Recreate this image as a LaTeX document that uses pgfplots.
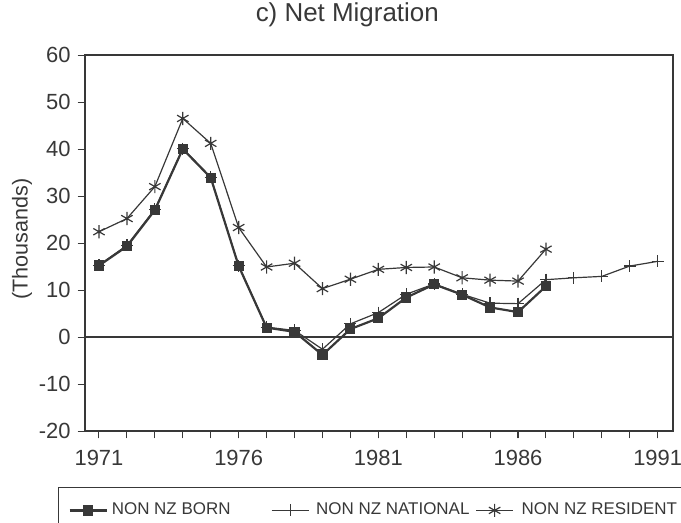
\documentclass[border=0pt]{standalone}
\usepackage{fontspec}
\setmainfont{Liberation Sans}
\usepackage{pgfplots}
\pgfplotsset{compat=1.18}

% data (thousands)
\pgfplotstableread{
year val
1971 15.2
1972 19.3
1973 27.0
1974 40.0
1975 33.9
1976 15.1
1977 2.0
1978 1.1
1979 -3.8
1980 1.7
1981 4.0
1982 8.4
1983 11.2
1984 9.0
1985 6.3
1986 5.3
1987 10.8
}\born
\pgfplotstableread{
year val
1971 15.3
1972 19.5
1973 27.2
1974 40.1
1975 34.0
1976 15.2
1977 2.1
1978 1.4
1979 -2.6
1980 2.8
1981 5.2
1982 9.1
1983 11.3
1984 9.1
1985 7.2
1986 7.1
1987 12.2
1988 12.6
1989 12.9
1990 15.1
1991 16.1
}\national
\pgfplotstableread{
year val
1971 22.4
1972 25.2
1973 32.0
1974 46.5
1975 41.2
1976 23.3
1977 14.9
1978 15.7
1979 10.3
1980 12.3
1981 14.4
1982 14.8
1983 14.9
1984 12.6
1985 12.1
1986 11.9
1987 18.7
}\resident

\definecolor{ink}{gray}{0.22}

\begin{document}
\begin{tikzpicture}
% page = scanned crop; legend box runs past its bottom and right edge
\clip[use as bounding box] (-1.498cm,-1.603cm) rectangle (10.50cm,7.594cm);
\begin{axis}[
  scale only axis,
  width=10.36cm, height=6.625cm,
  xmin=1970.5, xmax=1991.55,
  ymin=-20, ymax=60,
  xtick={1971,1976,1981,1986,1991},
  xticklabels={1971,1976,1981,1986,1991},
  minor xtick={1971,...,1991},
  ytick={-20,-10,...,60},
  yticklabels={-20,-10,0,10,20,30,40,50,60},
  tick pos=left,
  tick align=outside,
  major tick length=0.13cm,
  minor tick length=0.13cm,
  tick style={ink, line width=0.5pt},
  axis line style={ink, line width=0.6pt},
  ticklabel style={font=\fontsize{11}{13}\selectfont, text=ink},
  xticklabel style={yshift=-0.08cm},
  extra y ticks={0},
  extra y tick labels={},
  extra y tick style={grid=major, major grid style={ink, line width=0.6pt}, major tick length=0pt},
  title={c) Net Migration},
  title style={at={(0.446,1.0585)}, anchor=base, yshift=0pt, font=\fontsize{13}{15}\selectfont, text=ink},
  ylabel={(Thousands)},
  ylabel style={at={(rel axis cs:-0.107,0.51)}, anchor=center, font=\fontsize{10.8}{13}\selectfont, text=ink},
  legend style={at={(rel axis cs:-0.0459,-0.149)}, anchor=north west,
    draw=ink, line width=0.6pt, font=\fontsize{8.5}{10}\selectfont, text=ink,
    inner xsep=0.176cm, inner ysep=0.2cm, column sep=0pt,
    nodes={inner xsep=0pt}},
  legend columns=3,
  legend cell align=left,
  legend image code/.code={\draw[mark repeat=2,mark phase=2] plot coordinates {(0cm,0cm) (0.326cm,0cm) (0.652cm,0cm)};},
]
\addplot[ink, line width=1.1pt, mark=square*, mark size=2.3pt, mark options={fill=ink, solid, line width=0.5pt}] table[x=year, y=val] {\born};
\addlegendentry{\makebox[2.875cm][l]{\hspace*{0.071cm}NON NZ BORN}}
\addplot[ink, line width=0.6pt, mark=+, mark size=3pt, mark options={solid, line width=0.6pt}] table[x=year, y=val] {\national};
\addlegendentry{\makebox[2.93cm][l]{\hspace*{0.123cm}NON NZ NATIONAL}}
\addplot[ink, line width=0.6pt, mark=asterisk, mark size=3.3pt, mark options={solid, line width=0.6pt}] table[x=year, y=val] {\resident};
\addlegendentry{\makebox[3.6cm][l]{\hspace*{0.14cm}NON NZ RESIDENT}}
\end{axis}
\end{tikzpicture}
\end{document}
